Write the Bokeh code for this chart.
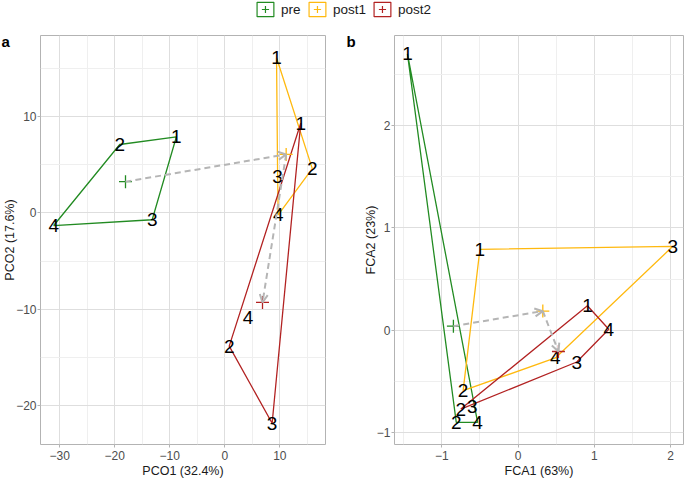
import numpy as np
from bokeh.plotting import figure
from bokeh.models import (ColumnDataSource, FixedTicker, Arrow, OpenHead, Label,
                          Legend, LegendItem, Range1d)
from bokeh.layouts import column, row
from bokeh.embed import file_html
from bokeh.resources import INLINE
from bokeh.core.properties import value

FONT = "Liberation Sans"

groups = ["pre", "post1", "post2"]
group_colors = ["#228B22", "#FFB90F", "#B22222"]
point_ids = ["1", "2", "3", "4"]

# Panel a: principal coordinates
pco1_pre = [-8.8, -19.1, -13.2, -31.1]
pco2_pre = [7.9, 7.1, -0.7, -1.3]
pco1_post1 = [9.4, 15.9, 9.6, 9.7]
pco2_post1 = [16.1, 4.6, 3.8, -0.2]
pco1_post2 = [13.8, 0.8, 8.6, 4.2]
pco2_post2 = [9.3, -13.8, -21.8, -10.8]

# Panel b: FCA
fca1_pre = [-1.45, -0.81, -0.60, -0.53]
fca2_pre = [2.70, -0.90, -0.74, -0.90]
fca1_post1 = [-0.50, -0.72, 2.03, 0.49]
fca2_post1 = [0.79, -0.59, 0.82, -0.27]
fca1_post2 = [0.91, -0.75, 0.77, 1.19]
fca2_post2 = [0.24, -0.77, -0.31, 0.01]

# Axes
a_xticks = [-30, -20, -10, 0, 10]
a_xminor = [-25, -15, -5, 5, 15]
a_yticks = [-20, -10, 0, 10]
a_yminor = [-15, -5, 5, 15]
b_xticks = [-1, 0, 1, 2]
b_xminor = [-1.5, -0.5, 0.5, 1.5]
b_yticks = [-1, 0, 1, 2]
b_yminor = [-0.5, 0.5, 1.5, 2.5]


def tick_labels(ticks):
    return {t: (str(t).replace("-", "\u2212")) for t in ticks}


def chull(xs, ys):
    pts = sorted(zip(xs, ys))

    def cross(o, a, b):
        return (a[0] - o[0]) * (b[1] - o[1]) - (a[1] - o[1]) * (b[0] - o[0])

    lower = []
    for p in pts:
        while len(lower) >= 2 and cross(lower[-2], lower[-1], p) <= 0:
            lower.pop()
        lower.append(p)
    upper = []
    for p in reversed(pts):
        while len(upper) >= 2 and cross(upper[-2], upper[-1], p) <= 0:
            upper.pop()
        upper.append(p)
    h = lower[:-1] + upper[:-1]
    return [q[0] for q in h], [q[1] for q in h]


def make_panel(data, xr, yr, xt, xm, yt, ym, xlabel, ylabel, letter,
               width, height, mbl, mbr, letter_dx):
    p = figure(width=width, height=height, output_backend="svg", toolbar_location=None,
               x_range=Range1d(*xr), y_range=Range1d(*yr),
               min_border_left=mbl, min_border_right=mbr, min_border_top=17,
               min_border_bottom=38)
    p.background_fill_color = "white"
    p.border_fill_color = "white"
    p.outline_line_color = "#b3b3b3"
    p.outline_line_width = 1

    p.xaxis.ticker = FixedTicker(ticks=xt, minor_ticks=xm)
    p.yaxis.ticker = FixedTicker(ticks=yt, minor_ticks=ym)
    p.xaxis.major_label_overrides = tick_labels(xt)
    p.yaxis.major_label_overrides = tick_labels(yt)
    for ax in (p.xaxis[0], p.yaxis[0]):
        ax.axis_line_color = None
        ax.major_tick_line_color = "#b3b3b3"
        ax.major_tick_out = 3
        ax.major_tick_in = 0
        ax.minor_tick_line_color = None
        ax.major_label_text_font = FONT
        ax.major_label_text_font_size = "12px"
        ax.major_label_text_color = "#4d4d4d"
        ax.axis_label_text_font = FONT
        ax.axis_label_text_font_size = "12.5px"
        ax.axis_label_text_font_style = "normal"
        ax.axis_label_text_color = "#1a1a1a"
    p.xaxis.major_label_standoff = 2
    p.xaxis.axis_label_standoff = 1
    p.yaxis.major_label_standoff = 0
    p.yaxis.axis_label_standoff = -4
    p.xaxis.axis_label = xlabel
    p.yaxis.axis_label = ylabel

    for g in (p.xgrid[0], p.ygrid[0]):
        g.grid_line_color = "#dedede"
        g.grid_line_width = 1
        g.minor_grid_line_color = "#efefef"
        g.minor_grid_line_width = 1

    cents = []
    for (xs, ys), col in zip(data, group_colors):
        hx, hy = chull(xs, ys)
        p.patch(hx, hy, fill_color=None, line_color=col, line_width=1.3)
        cents.append((float(np.mean(xs)), float(np.mean(ys))))

    for (xs, ys), col in zip(data, group_colors):
        p.text(x=xs, y=ys, text=point_ids, text_font=value(FONT),
               text_font_size="19px", text_align="center", text_baseline="middle",
               text_color="black")

    for (cx, cy), col in zip(cents, group_colors):
        p.scatter([cx], [cy], marker="cross", size=13, line_color=col, line_width=1.3)

    src = ColumnDataSource(dict(
        x0=[cents[0][0], cents[1][0]], y0=[cents[0][1], cents[1][1]],
        x1=[cents[1][0], cents[2][0]], y1=[cents[1][1], cents[2][1]]))
    p.add_layout(Arrow(source=src, x_start="x0", y_start="y0", x_end="x1", y_end="y1",
                       line_color="#b5b5b5", line_width=2, line_dash="6 4",
                       end=OpenHead(size=8, line_color="#b5b5b5", line_width=2)))

    p.add_layout(Label(x=letter_dx, y=3, x_units="screen", y_units="screen",
                       text=letter, text_font=FONT, text_font_style="bold",
                       text_font_size="15px", text_baseline="top", text_align="left",
                       text_color="black"), "above")
    return p


pa = make_panel(
    [(pco1_pre, pco2_pre), (pco1_post1, pco2_post1), (pco1_post2, pco2_post2)],
    (-33.5, 18.3), (-24.0, 18.4), a_xticks, a_xminor, a_yticks, a_yminor,
    "PCO1 (32.4%)", "PCO2 (17.6%)", "a", 330, 464, 40, 5, -39)

pb = make_panel(
    [(fca1_pre, fca2_pre), (fca1_post1, fca2_post1), (fca1_post2, fca2_post2)],
    (-1.62, 2.17), (-1.116, 2.88), b_xticks, b_xminor, b_yticks, b_yminor,
    "FCA1 (63%)", "FCA2 (23%)", "b", 355, 464, 64, 2, -48)

# Legend strip
top = figure(width=685, height=18, output_backend="svg", toolbar_location=None,
             x_range=Range1d(0, 1), y_range=Range1d(0, 1),
             x_axis_type=None, y_axis_type=None, min_border=0)
top.outline_line_color = None
top.grid.visible = False
items = []
for g, col in zip(groups, group_colors):
    off = ColumnDataSource(dict(x=[-5.0], y=[-5.0]))
    r1 = top.rect(x="x", y="y", width=0.01, height=0.01, source=off,
                  fill_color="white", line_color=col, line_width=1.2)
    r2 = top.scatter(x="x", y="y", source=off, marker="cross", size=10,
                     line_color=col, line_width=1.2)
    items.append(LegendItem(label=g, renderers=[r1, r2]))
leg = Legend(items=items, orientation="horizontal", location="top_center",
             glyph_width=21, glyph_height=18, label_standoff=6, spacing=5,
             padding=0, margin=0, border_line_color=None, background_fill_alpha=0,
             label_text_font=FONT, label_text_font_size="13.5px", label_text_color="#1a1a1a")
top.add_layout(leg, "center")

layout = column(top, row(pa, pb))
open("out.html", "w").write(file_html(layout, INLINE))
